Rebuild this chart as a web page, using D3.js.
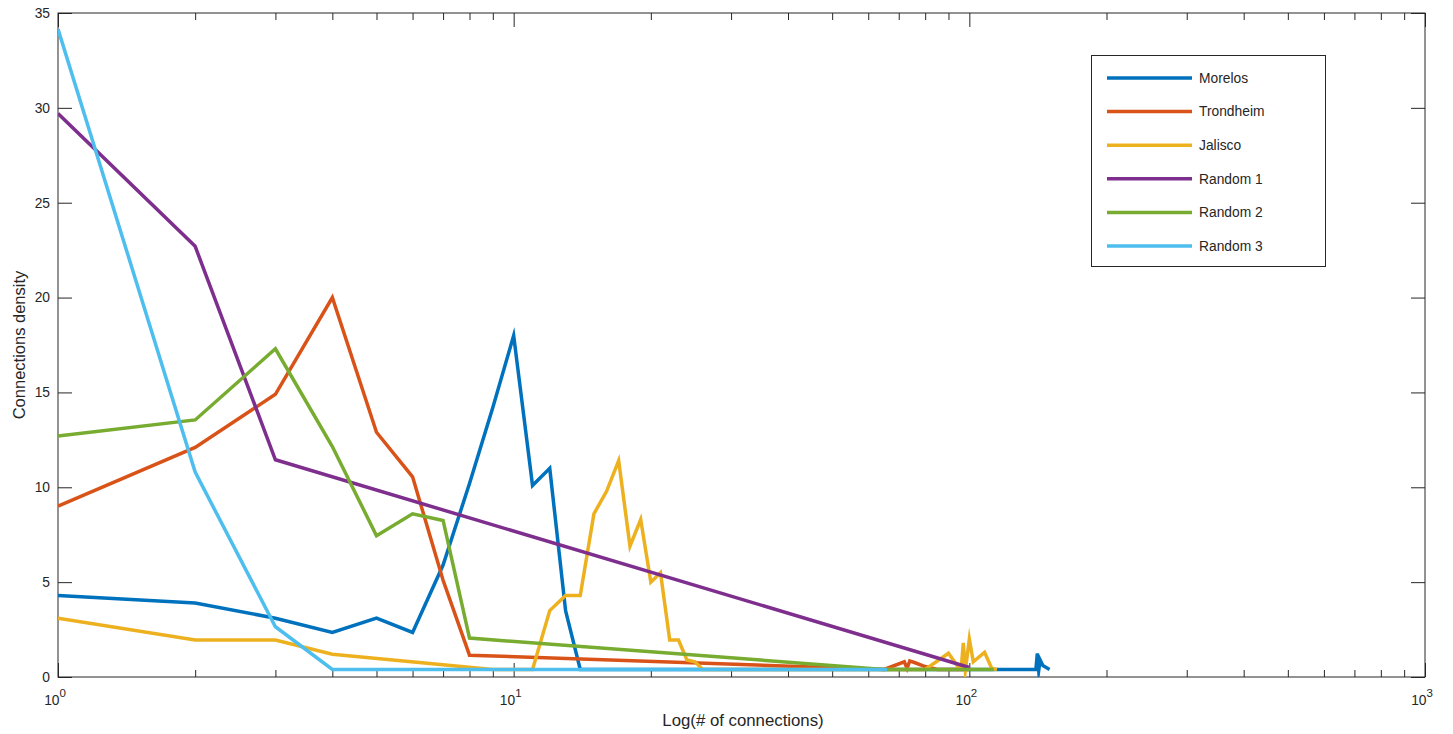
<!DOCTYPE html>
<html>
<head>
<meta charset="utf-8">
<script src="https://cdn.jsdelivr.net/npm/d3@7"></script>
<style>
  html, body { margin: 0; padding: 0; background: #fff; }
  svg { display: block; font-family: "Liberation Sans", Arial, Helvetica, sans-serif; }
</style>
</head>
<body>
<svg id="chart" width="1453" height="734"></svg>
<script>
// Degree distributions: x = number of connections, y = density (%)
const seriesNames = ["Morelos", "Trondheim", "Jalisco", "Random 1", "Random 2", "Random 3"];
const seriesColors = ["#0072BD", "#D95319", "#EDB120", "#7E2F8E", "#77AC30", "#4DBEEE"];

const morelosX = [1, 2, 3, 4, 5, 6, 7, 8, 9, 10, 11, 12, 13, 14, 140, 141, 142, 143, 145, 150];
const morelosY = [4.3, 3.9, 3.1, 2.35, 3.1, 2.35, 5.9, 10.2, 14.2, 18.0, 10.1, 11.0, 3.5, 0.4, 0.4, 1.25, 0.35, 0.9, 0.6, 0.4];

const trondheimX = [1, 2, 3, 4, 5, 6, 7, 8, 65, 72, 73, 74, 76, 80, 85, 100];
const trondheimY = [9.0, 12.1, 14.9, 20.0, 12.9, 10.55, 5.1, 1.15, 0.4, 0.8, 0.45, 0.85, 0.75, 0.55, 0.4, 0.4];

const jaliscoX = [1, 2, 3, 4, 9, 11, 12, 13, 14, 15, 16, 17, 18, 19, 20, 21, 22, 23, 24, 25, 26, 80, 90, 95, 96, 97, 98, 100, 102, 108, 112, 115];
const jaliscoY = [3.1, 1.95, 1.95, 1.2, 0.4, 0.4, 3.5, 4.3, 4.3, 8.6, 9.8, 11.4, 6.9, 8.3, 5.0, 5.5, 1.95, 1.95, 0.9, 0.8, 0.4, 0.4, 1.25, 0.45, 0.45, 1.8, 0.35, 2.0, 0.8, 1.3, 0.45, 0.4];

const random1X = [1, 2, 3, 100];
const random1Y = [29.7, 22.7, 11.45, 0.5];

const random2X = [1, 2, 3, 4, 5, 6, 7, 8, 65, 113];
const random2Y = [12.7, 13.55, 17.3, 12.15, 7.45, 8.6, 8.25, 2.05, 0.4, 0.4];

const random3X = [1, 2, 3, 4, 66];
const random3Y = [34.15, 10.8, 2.65, 0.4, 0.4];

const seriesX = [morelosX, trondheimX, jaliscoX, random1X, random2X, random3X];
const seriesY = [morelosY, trondheimY, jaliscoY, random1Y, random2Y, random3Y];

const yTicks = [0, 5, 10, 15, 20, 25, 30, 35];
const xMajorTicks = [1, 10, 100, 1000];
const xExponents = ["0", "1", "2", "3"];
const xLabel = "Log(# of connections)";
const yLabel = "Connections density";

// ---- layout ----
const plotLeft = 58, plotRight = 1425, plotTop = 13, plotBottom = 677;
const axisColor = "#262626";

const svg = d3.select("#chart");
const x = d3.scaleLog().domain([1, 1000]).range([plotLeft, plotRight]);
const y = d3.scaleLinear().domain([0, 35]).range([plotBottom, plotTop]);

// minor ticks 2..9 per decade
const xMinorTicks = [];
for (let d = 1; d < 1000; d *= 10) for (let k = 2; k <= 9; k++) xMinorTicks.push(d * k);

const axes = svg.append("g").attr("class", "axes");

function styleAxis(g) {
  g.select(".domain").remove();
  g.selectAll(".tick line").attr("stroke", axisColor).attr("stroke-width", 1);
  g.selectAll(".tick text").attr("fill", axisColor).attr("font-size", 13.8)
    .attr("font-family", "'Liberation Sans', Arial, Helvetica, sans-serif");
}

// bottom axis: minor + major (inward ticks)
axes.append("g").attr("transform", `translate(0,${plotBottom})`)
  .call(d3.axisBottom(x).tickValues(xMinorTicks).tickSize(-7).tickSizeOuter(0).tickFormat(""))
  .call(styleAxis);
const bottomMajor = axes.append("g").attr("transform", `translate(0,${plotBottom})`)
  .call(d3.axisBottom(x).tickValues(xMajorTicks).tickSize(-14).tickSizeOuter(0).tickPadding(18).tickFormat(() => "10"))
  .call(styleAxis);
bottomMajor.selectAll(".tick text")
  .attr("dy", "0.71em")
  .attr("text-anchor", "middle")
  .attr("dx", "-0.25em")
  .each(function (d, i) {
    d3.select(this).append("tspan")
      .attr("dy", "-0.7em")
      .attr("font-size", 11.5)
      .text(xExponents[i]);
  });

// top axis (ticks only)
axes.append("g").attr("transform", `translate(0,${plotTop})`)
  .call(d3.axisTop(x).tickValues(xMinorTicks).tickSize(-7).tickSizeOuter(0).tickFormat(""))
  .call(styleAxis);
axes.append("g").attr("transform", `translate(0,${plotTop})`)
  .call(d3.axisTop(x).tickValues(xMajorTicks).tickSize(-14).tickSizeOuter(0).tickFormat(""))
  .call(styleAxis);

// left axis with labels
axes.append("g").attr("transform", `translate(${plotLeft},0)`)
  .call(d3.axisLeft(y).tickValues(yTicks).tickSize(-14).tickSizeOuter(0).tickPadding(8).tickFormat(d3.format("d")))
  .call(styleAxis);
// right axis (ticks only)
axes.append("g").attr("transform", `translate(${plotRight},0)`)
  .call(d3.axisRight(y).tickValues(yTicks).tickSize(-14).tickSizeOuter(0).tickFormat(""))
  .call(styleAxis);

// axes box
axes.append("rect")
  .attr("x", plotLeft).attr("y", plotTop)
  .attr("width", plotRight - plotLeft).attr("height", plotBottom - plotTop)
  .attr("fill", "none").attr("stroke", axisColor).attr("stroke-width", 1);

// axis titles
svg.append("text")
  .attr("x", 743).attr("y", 726)
  .attr("text-anchor", "middle").attr("fill", axisColor).attr("font-size", 16.8)
  .text(xLabel);
svg.append("text")
  .attr("transform", `translate(25,${(plotTop + plotBottom) / 2}) rotate(-90)`)
  .attr("text-anchor", "middle").attr("fill", axisColor).attr("font-size", 16.5)
  .text(yLabel);

// ---- lines ----
svg.append("defs").append("clipPath").attr("id", "plotClip")
  .append("rect").attr("x", plotLeft).attr("y", plotTop)
  .attr("width", plotRight - plotLeft).attr("height", plotBottom - plotTop);

const line = d3.line().x(d => x(d[0])).y(d => y(d[1]));
const plot = svg.append("g").attr("clip-path", "url(#plotClip)");
seriesNames.forEach((name, i) => {
  const pts = seriesX[i].map((v, j) => [v, seriesY[i][j]]);
  plot.append("path")
    .datum(pts)
    .attr("d", line)
    .attr("fill", "none")
    .attr("stroke", seriesColors[i])
    .attr("stroke-width", 3.5)
    .attr("stroke-linejoin", "miter")
    .attr("stroke-miterlimit", 10);
});

// ---- legend ----
const legend = svg.append("g");
legend.append("rect")
  .attr("x", 1091.5).attr("y", 55.5).attr("width", 234).attr("height", 211)
  .attr("fill", "#fff").attr("stroke", axisColor).attr("stroke-width", 1);
seriesNames.forEach((name, i) => {
  const ly = 78 + i * 33.6;
  legend.append("line")
    .attr("x1", 1107).attr("x2", 1192).attr("y1", ly).attr("y2", ly)
    .attr("stroke", seriesColors[i]).attr("stroke-width", 3.5);
  legend.append("text")
    .attr("x", 1199).attr("y", ly).attr("dy", "0.35em")
    .attr("fill", axisColor).attr("font-size", 13.8)
    .text(name);
});
</script>
</body>
</html>
